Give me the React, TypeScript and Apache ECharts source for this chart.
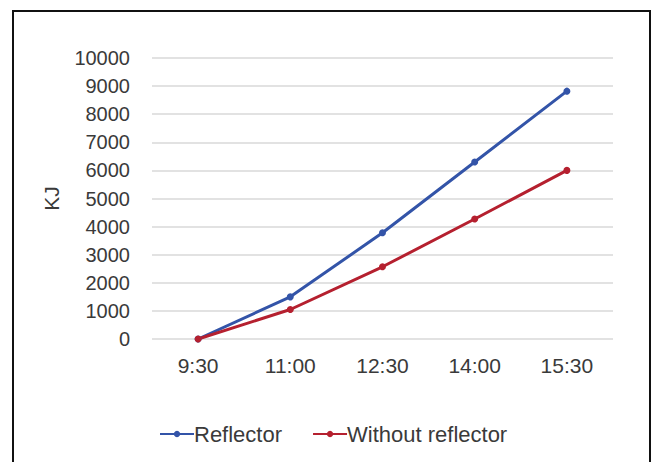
import React, { useEffect, useRef } from "react";
import * as echarts from "echarts";

const categories = ["9:30", "11:00", "12:30", "14:00", "15:30"];
const reflector = [0, 1500, 3780, 6300, 8820];
const withoutReflector = [0, 1050, 2570, 4270, 6000];
const yAxisName = "KJ";
const seriesNames = ["Reflector", "Without reflector"];

const FONT = "'Liberation Sans', Arial, sans-serif";

export default function App() {
  const ref = useRef<HTMLDivElement>(null);
  useEffect(() => {
    if (!ref.current) return;
    const chart = echarts.init(ref.current, undefined, { renderer: "svg" });
    chart.setOption({
      animation: false,
      backgroundColor: "#ffffff",
      graphic: [
        {
          type: "rect",
          shape: { x: 13, y: 11, width: 637, height: 460 },
          style: { fill: "none", stroke: "#111", lineWidth: 2 },
          z: 100,
        },
      ],
      grid: { left: 152, right: 43, top: 58, bottom: 123 },
      legend: {
        bottom: 12,
        left: 154,
        itemWidth: 34,
        itemHeight: 8,
        itemGap: 30,
        textStyle: { fontFamily: FONT, fontSize: 22, color: "#3a3a3a", padding: [0, 0, 0, -5] },
        data: seriesNames,
      },
      xAxis: {
        type: "category",
        data: categories,
        boundaryGap: true,
        axisLine: { show: false },
        axisTick: { show: false },
        axisLabel: { fontFamily: FONT, fontSize: 21, color: "#3a3a3a", margin: 16 },
      },
      yAxis: {
        type: "value",
        min: 0,
        max: 10000,
        interval: 1000,
        name: yAxisName,
        nameLocation: "middle",
        nameGap: 90,
        nameRotate: 90,
        nameTextStyle: { fontFamily: FONT, fontSize: 21, color: "#3a3a3a" },
        axisLine: { show: false },
        axisTick: { show: false },
        axisLabel: {
          fontFamily: FONT,
          fontSize: 20,
          color: "#3a3a3a",
          margin: 22,
          formatter: (v: number) => String(v),
        },
        splitLine: { lineStyle: { color: "#d9d9d9", width: 1.5 } },
      },
      series: [
        {
          name: seriesNames[0],
          type: "line",
          data: reflector,
          symbol: "circle",
          symbolSize: 7,
          color: "#3354a8",
          lineStyle: { width: 3, color: "#3354a8" },
          itemStyle: { color: "#3354a8" },
        },
        {
          name: seriesNames[1],
          type: "line",
          data: withoutReflector,
          symbol: "circle",
          symbolSize: 7,
          color: "#b5202f",
          lineStyle: { width: 3, color: "#b5202f" },
          itemStyle: { color: "#b5202f" },
        },
      ],
    });
    return () => chart.dispose();
  }, []);
  return <div ref={ref} style={{ width: 656, height: 462, position: "absolute", left: 0, top: 0 }} />;
}
